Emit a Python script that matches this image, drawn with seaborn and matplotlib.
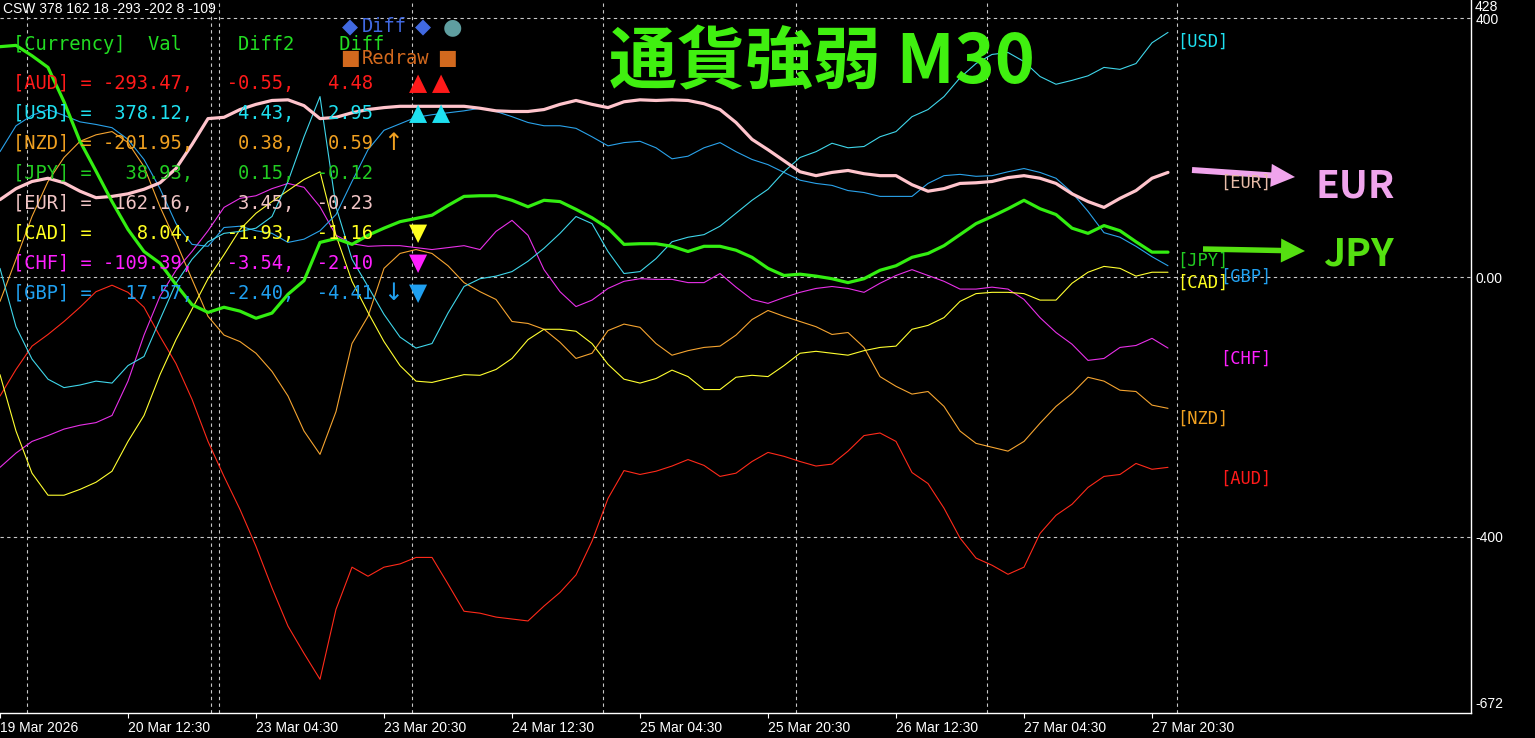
import pandas as pd
import matplotlib
matplotlib.use("Agg")
import matplotlib.pyplot as plt
from matplotlib.patches import FancyArrow
import seaborn as sns

# one point every 4 bars of M30 (2 hours)
bar_index = list(range(0, 293, 4))

aud = [-183, -142, -106, -88, -68, -46, -22, -12, -23, -46,
       -91, -133, -188, -253, -307, -358, -415, -479, -538, -580,
       -620, -512, -447, -461, -447, -442, -432, -432, -473, -515,
       -518, -524, -527, -530, -507, -486, -459, -407, -341, -298,
       -304, -299, -291, -281, -290, -307, -302, -284, -270, -276,
       -284, -291, -288, -268, -244, -240, -253, -301, -318, -356,
       -402, -433, -444, -458, -447, -395, -367, -350, -324, -307,
       -304, -287, -296, -293]
usd = [14, -76, -126, -157, -170, -166, -160, -163, -136, -122,
       -65, -9, 28, 55, 68, 71, 76, 94, 148, 217,
       279, 109, 28, -14, -57, -92, -109, -102, -55, -14,
       -2, 2, 9, 25, 45, 68, 94, 83, 40, 6,
       9, 29, 55, 62, 66, 79, 99, 119, 136, 163,
       185, 194, 207, 200, 202, 217, 225, 248, 259, 279,
       308, 330, 344, 347, 333, 310, 298, 304, 311, 324,
       321, 330, 362, 378]
nzd = [-37, 28, 94, 148, 185, 210, 220, 225, 208, 171,
       109, 55, -3, -60, -89, -99, -117, -145, -183, -237,
       -273, -207, -102, -60, 14, 37, 43, 37, 18, -8,
       -22, -34, -68, -71, -80, -100, -125, -117, -82, -72,
       -77, -102, -120, -113, -108, -106, -89, -65, -51, -60,
       -68, -76, -88, -85, -108, -153, -168, -180, -176, -199,
       -237, -256, -262, -268, -253, -225, -199, -179, -154, -160,
       -174, -176, -197, -202]
jpy = [356, 358, 342, 324, 271, 210, 164, 117, 74, 40,
       22, -11, -42, -54, -46, -52, -63, -55, -26, -5,
       54, 60, 51, 65, 76, 86, 91, 96, 111, 125,
       126, 126, 119, 109, 119, 117, 105, 92, 76, 51,
       52, 52, 48, 40, 48, 48, 42, 31, 14, 3,
       5, 2, -2, -8, -2, 11, 18, 31, 37, 49,
       66, 83, 94, 106, 119, 106, 97, 76, 68, 80,
       72, 55, 39, 39]
eur = [120, 137, 148, 153, 146, 133, 123, 125, 129, 136,
       146, 168, 205, 245, 247, 259, 267, 273, 274, 265,
       245, 247, 254, 259, 262, 264, 264, 264, 264, 264,
       261, 257, 256, 256, 259, 267, 273, 267, 262, 271,
       274, 273, 274, 273, 268, 259, 239, 213, 197, 180,
       163, 157, 162, 165, 160, 157, 157, 143, 133, 137,
       145, 146, 148, 154, 157, 153, 145, 129, 117, 108,
       122, 134, 153, 162]
cad = [-150, -237, -302, -336, -336, -327, -316, -299, -253, -213,
       -150, -96, -49, -2, 35, 74, 99, 117, 134, 151,
       163, 65, -6, -54, -99, -136, -160, -162, -156, -150,
       -151, -142, -125, -96, -80, -80, -83, -102, -134, -157,
       -163, -156, -143, -153, -173, -173, -154, -151, -153, -136,
       -117, -114, -117, -120, -113, -108, -106, -80, -74, -62,
       -37, -25, -23, -23, -25, -35, -35, -9, 8, 17,
       14, 2, 8, 8]
chf = [-293, -271, -253, -244, -234, -228, -224, -213, -160, -89,
       -29, 11, 40, 72, 108, 122, 126, 137, 145, 139,
       109, 65, 52, 48, 49, 49, 46, 43, 46, 49,
       43, 71, 88, 65, 12, -22, -45, -35, -17, -6,
       -2, -3, -3, -8, -8, 6, -15, -34, -40, -31,
       -23, -17, -14, -17, -23, -9, 3, 12, 3, -6,
       -18, -18, -15, -18, -34, -62, -85, -103, -128, -125,
       -108, -105, -94, -109]
gbp = [194, 234, 250, 259, 250, 240, 236, 231, 213, 182,
       137, 83, 51, 48, 77, 79, 72, 68, 54, 59,
       72, 97, 148, 197, 227, 237, 247, 251, 254, 257,
       261, 256, 248, 239, 234, 234, 230, 217, 203, 208,
       210, 200, 183, 187, 200, 208, 194, 182, 174, 162,
       150, 145, 142, 134, 131, 125, 125, 125, 145, 157,
       159, 156, 157, 163, 168, 162, 153, 131, 102, 69,
       62, 48, 32, 18]

# table in the top left corner
currencies = ["AUD", "USD", "NZD", "JPY", "EUR", "CAD", "CHF", "GBP"]
table_val = [-293.47, 378.12, -201.95, 38.93, 162.16, 8.04, -109.39, 17.57]
table_diff2 = [-0.55, 4.43, 0.38, 0.15, 3.45, -1.93, -3.54, -2.40]
table_diff = [4.48, 2.95, 0.59, -0.12, -0.23, -1.16, -2.10, -4.41]
csw_text = "CSW 378 162 18 -293 -202 8 -109"

tick_labels = ["19 Mar 2026", "20 Mar 12:30", "23 Mar 04:30", "23 Mar 20:30",
               "24 Mar 12:30", "25 Mar 04:30", "25 Mar 20:30", "26 Mar 12:30",
               "27 Mar 04:30", "27 Mar 20:30"]
tick_bars = [0, 32, 64, 96, 128, 160, 192, 224, 256, 288]
day_lines = [6.75, 52.75, 54.75, 103, 150.75, 199, 246.75, 294.25]

line_colors = {"AUD": "#ff2a1a", "USD": "#3fd6ea", "NZD": "#f5a430", "JPY": "#33ee11",
               "EUR": "#ffc4cc", "CAD": "#ffff30", "CHF": "#e830e8", "GBP": "#2aa2ea"}
text_colors = {"AUD": "#ff1a1a", "USD": "#1ee0f0", "NZD": "#f0a020", "JPY": "#22cc22",
               "EUR": "#f0c4c4", "CAD": "#ffff20", "CHF": "#ff20ff", "GBP": "#20a0f0"}
line_widths = {c: 0.8 for c in currencies}
line_widths["EUR"] = 2.3
line_widths["JPY"] = 2.3
draw_order = ["AUD", "NZD", "CHF", "CAD", "GBP", "USD", "EUR", "JPY"]

df = pd.DataFrame({"AUD": aud, "USD": usd, "NZD": nzd, "JPY": jpy,
                   "EUR": eur, "CAD": cad, "CHF": chf, "GBP": gbp})
df["bar"] = bar_index
long_df = df.melt(id_vars="bar", var_name="currency", value_name="strength")

sns.set_theme(style="dark", rc={"axes.facecolor": "black", "figure.facecolor": "black"})
plt.rcParams["font.family"] = ["DejaVu Sans"]

W, H = 1535, 738
fig = plt.figure(figsize=(W / 100, H / 100), dpi=100, facecolor="black")
ax = fig.add_axes([0, 25 / H, 1471 / W, 713 / H])
ax.set_facecolor("black")

sns.lineplot(data=long_df, x="bar", y="strength", hue="currency", hue_order=draw_order,
             palette=line_colors, size="currency", size_order=draw_order, sizes=line_widths,
             estimator=None, legend=False, ax=ax)

ax.set_xlim(0, 1471 / 4)
ax.set_ylim(-672, 428)
ax.set_xlabel("")
ax.set_ylabel("")
ax.grid(False)

# dashed grid
for yv in [400, 0, -400]:
    ax.axhline(yv, color="#c8c8c8", lw=0.8, ls=(0, (3, 3)), zorder=0)
for xb in day_lines:
    ax.axvline(xb, color="#c8c8c8", lw=0.8, ls=(0, (3, 3)), zorder=0)

for side in ["top", "left"]:
    ax.spines[side].set_visible(False)
for side in ["bottom", "right"]:
    ax.spines[side].set_visible(True)
    ax.spines[side].set_color("white")
    ax.spines[side].set_linewidth(1.0)

ax.set_xticks(tick_bars)
ax.set_xticklabels(tick_labels, ha="left", family=["Liberation Sans", "DejaVu Sans"],
                   fontsize=10, color="white")
ax.tick_params(axis="x", colors="white", length=3.5, width=0.8, pad=2, direction="out",
               bottom=True)
ax.yaxis.tick_right()
ax.set_yticks([400, 0, -400])
ax.set_yticklabels(["400", "0.00", "-400"], family=["Liberation Sans", "DejaVu Sans"],
                   fontsize=10, color="white")
ax.tick_params(axis="y", colors="white", length=0, pad=3, right=True, left=False)

# overlay in pixel coordinates for text objects
ov = fig.add_axes([0, 0, 1, 1])
ov.set_xlim(0, W)
ov.set_ylim(H, 0)
ov.axis("off")
ov.patch.set_alpha(0)

sans = ["Liberation Sans", "DejaVu Sans"]
mono = ["DejaVu Sans Mono"]
cjk = ["Noto Sans CJK JP", "DejaVu Sans"]
ov.text(1475, 7, "428", color="white", fontsize=10, family=sans, va="center", ha="left")
ov.text(1475, 704, "-672", color="white", fontsize=10, family=sans, va="center", ha="left")
ov.text(3, 9, csw_text, color="white", fontsize=10, family=sans, va="center", ha="left")

# title
ov.text(822, 64, "通貨強弱 M30", color="#40f010", fontsize=49, fontweight="bold",
        family=cjk, ha="center", va="center")

# table
ov.text(13, 45, "[Currency]  Val     Diff2    Diff", color="#22dd22", fontsize=13.5,
        family=mono, va="center", ha="left")
arrows_suffix = {"NZD": " \u2191", "GBP": " \u2193"}
for i, cur in enumerate(currencies):
    row = f"[{cur}] = {table_val[i]:7.2f},{table_diff2[i]:8.2f},{table_diff[i]:7.2f}"
    ov.text(13, 83 + 30 * i, row, color=text_colors[cur], fontsize=13.5, family=mono,
            va="center", ha="left")
    if cur in arrows_suffix:
        ov.text(393, 83 + 30 * i, arrows_suffix[cur].strip(), color=text_colors[cur],
                fontsize=17, ha="center", va="center")

# Diff / Redraw buttons
ov.text(350, 27, "\u25c6", color="#4169e1", fontsize=15, ha="center", va="center")
ov.text(362, 27, "Diff", color="#4169e1", fontsize=13.5, family=mono, ha="left", va="center")
ov.text(423, 27, "\u25c6", color="#4169e1", fontsize=15, ha="center", va="center")
ov.text(452, 27, "\u25cf", color="#5f9ea0", fontsize=16, ha="center", va="center")
ov.text(350, 58, "\u25a0", color="#d2691e", fontsize=15, ha="center", va="center")
ov.text(362, 58, "Redraw", color="#d2691e", fontsize=13.5, family=mono, ha="left", va="center")
ov.text(447, 58, "\u25a0", color="#d2691e", fontsize=15, ha="center", va="center")

# signal triangles
tri = [("AUD", 418, "\u25b2"), ("AUD", 441, "\u25b2"), ("USD", 418, "\u25b2"),
       ("USD", 441, "\u25b2"), ("CAD", 418, "\u25bc"), ("CHF", 418, "\u25bc"),
       ("GBP", 418, "\u25bc")]
for cur, tx, glyph in tri:
    ov.text(tx, 83 + 30 * currencies.index(cur), glyph, color=text_colors[cur],
            fontsize=17, ha="center", va="center")

# right side labels
right_labels = {"USD": (1177, 42), "EUR": (1220, 183), "JPY": (1177, 261),
                "CAD": (1177, 283), "GBP": (1220, 277), "CHF": (1220, 359),
                "NZD": (1177, 419), "AUD": (1220, 479)}
for cur, (lx, ly) in right_labels.items():
    col = "#e8bca8" if cur == "EUR" else text_colors[cur]
    ov.text(lx, ly, f"[{cur}]", color=col, fontsize=12.3, family=mono, ha="left", va="center")

# EUR / JPY arrows
ov.add_patch(FancyArrow(1192, 170, 103, 7, width=6, head_width=23, head_length=24,
                        length_includes_head=True, color="#f0a4ec", lw=0))
ov.add_patch(FancyArrow(1203, 249, 102, 2, width=5.5, head_width=24, head_length=24,
                        length_includes_head=True, color="#55e011", lw=0))
ov.text(1355, 186, "EUR", color="#f0a4ec", fontsize=28, fontweight="bold",
        family=cjk, ha="center", va="center")
ov.text(1358, 254, "JPY", color="#55e011", fontsize=28, fontweight="bold",
        family=cjk, ha="center", va="center")

fig.savefig("out.png", dpi=100, facecolor="black")
